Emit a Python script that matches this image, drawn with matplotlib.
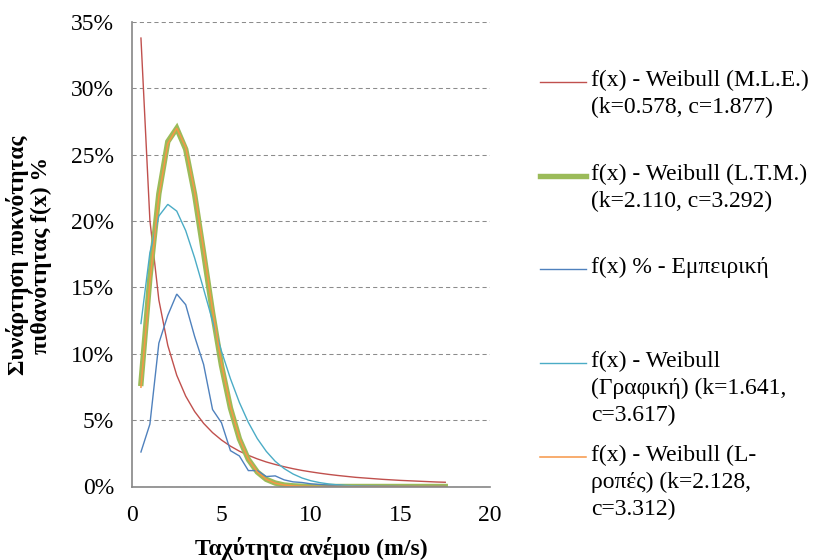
import matplotlib
matplotlib.use("Agg")
import matplotlib.pyplot as plt
from matplotlib.lines import Line2D

# wind speed bins (m/s)
speed = [0.5, 1.0, 1.5, 2.0, 2.5, 3.0, 3.5, 4.0, 4.5, 5.0, 5.5, 6.0, 6.5, 7.0, 7.5,
         8.0, 8.5, 9.0, 9.5, 10.0, 10.5, 11.0, 11.5, 12.0, 12.5, 13.0, 13.5, 14.0,
         14.5, 15.0, 15.5, 16.0, 16.5, 17.0, 17.5]

# f(x) in percent
weibull_mle = [33.79, 20.05, 14.06, 10.63, 8.38, 6.81, 5.65, 4.76, 4.06, 3.50, 3.04,
               2.66, 2.35, 2.08, 1.85, 1.66, 1.49, 1.34, 1.21, 1.10, 1.00, 0.91, 0.83,
               0.76, 0.69, 0.64, 0.59, 0.54, 0.50, 0.46, 0.43, 0.40, 0.37, 0.34, 0.32]
weibull_ltm = [7.77, 15.75, 22.06, 25.99, 26.99, 25.41, 21.99, 17.61, 13.11, 9.11, 5.91,
               3.59, 2.04, 1.09, 0.54, 0.26, 0.11, 0.05, 0.02, 0.01, 0.0, 0.0, 0.0, 0.0,
               0.0, 0.0, 0.0, 0.0, 0.0, 0.0, 0.0, 0.0, 0.0, 0.0, 0.0]
empirical = [2.6, 4.7, 10.8, 12.9, 14.5, 13.7, 11.3, 9.2, 5.8, 4.8, 2.7, 2.3, 1.2, 1.2,
             0.75, 0.8, 0.5, 0.35, 0.3, 0.2, 0.15, 0.1, 0.1, 0.05, 0.05, 0.03, 0.03,
             0.02, 0.02, 0.01, 0.01, 0.0, 0.0, 0.0, 0.0]
weibull_graph = [12.28, 17.63, 20.38, 21.26, 20.75, 19.28, 17.22, 14.88, 12.47, 10.19,
                 8.12, 6.33, 4.83, 3.61, 2.65, 1.90, 1.35, 0.94, 0.64, 0.43, 0.29, 0.19,
                 0.12, 0.08, 0.05, 0.03, 0.02, 0.01, 0.01, 0.0, 0.0, 0.0, 0.0, 0.0, 0.0]
weibull_lmom = [7.48, 15.39, 21.85, 25.84, 27.00, 25.56, 22.21, 17.84, 13.31, 9.25, 6.00,
                3.64, 2.06, 1.09, 0.54, 0.25, 0.11, 0.05, 0.02, 0.01, 0.0, 0.0, 0.0, 0.0,
                0.0, 0.0, 0.0, 0.0, 0.0, 0.0, 0.0, 0.0, 0.0, 0.0, 0.0]

labels = [
    "f(x) - Weibull (M.L.E.)\n(k=0.578, c=1.877)",
    "f(x) - Weibull (L.T.M.)\n(k=2.110, c=3.292)",
    "f(x) % - Εμπειρική",
    "f(x) - Weibull\n(Γραφική) (k=1.641,\nc=3.617)",
    "f(x) - Weibull (L-\nροπές) (k=2.128,\nc=3.312)",
]
y_ticks = [0, 5, 10, 15, 20, 25, 30, 35]
x_ticks = [0, 5, 10, 15, 20]

SERIF = ["Liberation Serif", "DejaVu Serif"]
plt.rcParams["font.family"] = SERIF

RED = "#C0504D"
GREEN = "#9BBB59"
BLUE = "#4F81BD"
AQUA = "#4BACC6"
ORANGE = "#F79646"
GRID = "#8C8C8C"

fig = plt.figure(figsize=(8.17, 5.6), dpi=100)
ax = fig.add_axes([132 / 817, 1 - 486.5 / 560, 358 / 817, 464.5 / 560])

series = [
    (weibull_mle, RED, 1.0),
    (weibull_ltm, GREEN, 3.9),
    (empirical, BLUE, 1.0),
    (weibull_graph, AQUA, 1.0),
    (weibull_lmom, ORANGE, 1.1),
]
for values, color, lw in series:
    ax.plot(speed, values, color=color, linewidth=lw, solid_joinstyle="miter")

ax.set_xlim(0, 20)
ax.set_ylim(0, 35)
ax.set_xticks(x_ticks)
ax.set_yticks(y_ticks)
ax.set_yticklabels([f"{v}%" for v in y_ticks])
ax.tick_params(length=0, labelsize=17, pad=13, colors="black")
ax.grid(axis="y", color=GRID, linewidth=0.75, linestyle=(0, (4, 3)))
ax.set_axisbelow(True)
for side in ("top", "right"):
    ax.spines[side].set_visible(False)
for side in ("left", "bottom"):
    ax.spines[side].set_color("#868686")
    ax.spines[side].set_linewidth(1.2)

fig.text(311 / 817, 1 - 548 / 560, "Ταχύτητα ανέμου (m/s)", ha="center", va="center",
         fontsize=17, fontweight="bold")
fig.text(29 / 817, 1 - 255 / 560, "Συνάρτηση πυκνότητας\nπιθανότητας f(x) %",
         ha="center", va="center", rotation=90, fontsize=17, fontweight="bold",
         multialignment="center", linespacing=1.0)

# legend, drawn entry by entry to follow the original spacing
entry_tops = [82, 176, 269, 363, 457]
for (values, color, lw), label, ytop in zip(series, labels, entry_tops):
    yf = 1 - ytop / 560
    fig.add_artist(Line2D([540 / 817, 586 / 817], [yf, yf], color=color,
                          linewidth=lw, transform=fig.transFigure))
    fig.text(591 / 817, 1 - (ytop - 12) / 560, label, ha="left", va="top",
             fontsize=17, linespacing=1.36)

fig.savefig("out.png", dpi=100)
